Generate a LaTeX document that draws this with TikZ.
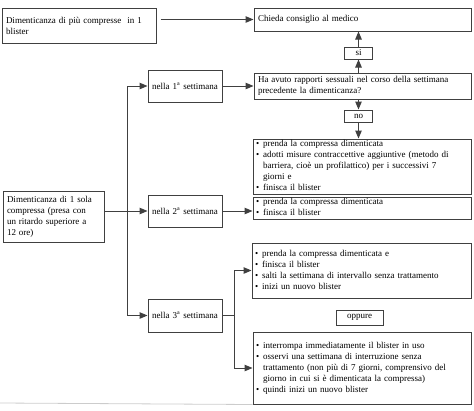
\documentclass[tikz,border=0pt]{standalone}
\usepackage{fontspec}
\setmainfont{Liberation Serif}
\usetikzlibrary{arrows.meta}
\newcommand{\blt}{\textbullet}
\begin{document}
\begin{tikzpicture}[x=1pt,y=-1pt,
  every node/.style={font=\fontsize{9}{11}\selectfont},
  box/.style={draw=black!75,line width=1pt,rectangle,inner ysep=0pt,inner xsep=4pt,align=left,anchor=center},
  tag/.style={draw=black!75,line width=1pt,rectangle,inner sep=0pt,align=center,anchor=center},
  conn/.style={draw=black!75,line width=1pt},
  arr/.style={conn,-{Triangle[length=8pt,width=6.5pt]}}]
\useasboundingbox (0,0) rectangle (474,410);
\newcommand{\bl}[1]{\begin{tabular}{@{}l@{\hspace{4pt}}l@{}}#1\end{tabular}}
% boxes
\node[box,minimum width=154pt,minimum height=35pt,text width=146pt] (b1) at (79,25.5)
  {Dimenticanza di più compresse \ in 1\\blister};
\node[box,minimum width=217pt,minimum height=23pt,text width=209pt] (chieda) at (362.5,19.5)
  {Chieda consiglio al medico};
\node[tag,minimum width=28pt,minimum height=12pt] (si) at (358.5,53) {si};
\node[box,minimum width=217pt,minimum height=26pt,text width=209pt] (ha) at (362.5,86)
  {Ha avuto rapporti sessuali nel corso della settimana\\precedente la dimenticanza?};
\node[tag,minimum width=28pt,minimum height=12pt] (no) at (358.5,116) {no};
\node[box,minimum width=218pt,minimum height=53pt,text width=212pt,inner xsep=3pt] (r1) at (362,166.5)
  {\bl{\blt & prenda la compressa dimenticata\\
       \blt & adotti misure contraccettive aggiuntive (metodo di\\
            & barriera, cioè un profilattico) per i successivi 7\\
            & giorni e\\
       \blt & finisca il blister}};
\node[box,minimum width=218pt,minimum height=22pt,text width=212pt,inner xsep=3pt] (r2) at (362,208)
  {\bl{\blt & prenda la compressa dimenticata\\
       \blt & finisca il blister}};
\node[box,minimum width=74pt,minimum height=32pt,text width=72pt,inner xsep=1pt,align=center] (w1) at (185,86)
  {nella 1\textsuperscript{a} settimana};
\node[box,minimum width=74pt,minimum height=32pt,text width=72pt,inner xsep=1pt,align=center] (w2) at (185,211)
  {nella 2\textsuperscript{a} settimana};
\node[box,minimum width=74pt,minimum height=33pt,text width=72pt,inner xsep=1pt,align=center] (w3) at (185,315.5)
  {nella 3\textsuperscript{a} settimana};
\node[box,minimum width=101pt,minimum height=51pt,text width=93pt] (d1) at (53.5,216.5)
  {Dimenticanza di 1 sola\\compressa (presa con\\un ritardo superiore a\\12 ore)};
\node[box,minimum width=219pt,minimum height=55pt,text width=213pt,inner xsep=3pt] (A) at (361.5,270.5)
  {\bl{\blt & prenda la compressa dimenticata e\\
       \blt & finisca il blister\\
       \blt & salti la settimana di intervallo senza trattamento\\
       \blt & inizi un nuovo blister}};
\node[tag,minimum width=47pt,minimum height=15pt] (opp) at (359.5,317.5) {oppure};
\node[box,minimum width=218pt,minimum height=72pt,text width=212pt,inner xsep=3pt] (B) at (362,368)
  {\bl{\blt & interrompa immediatamente il blister in uso\\
       \blt & osservi una settimana di interruzione senza\\
            & trattamento (non più di 7 giorni, comprensivo del\\
            & giorno in cui si è dimenticata la compressa)\\
       \blt & quindi inizi un nuovo blister}};
% connectors
\draw[arr] ([xshift=4pt]b1.east |- chieda.west) -- (chieda.west);
\draw[arr] (ha.north -| si.south) -- (si.south);
\draw[arr] (si.north) -- (si.north |- chieda.south);
\draw[arr] (ha.south -| no.north) -- (no.north);
\draw[arr] (no.south) -- (no.south |- r1.north);
\draw[arr] (w1.east) -- (w1.east -| ha.west);
\coordinate (tx) at (127,0);
\draw[arr] (tx |- w1.west) -- (w1.west);
\draw[arr] (tx |- w1.west) -- (tx |- w3.west) -- (w3.west);
\draw[arr] (d1.east |- w2.west) -- (w2.west);
\draw[arr] (w2.east) -- (w2.east -| r2.west);
\coordinate (bx) at (234,0);
\draw[conn] (w3.east) -- (w3.east -| bx);
\draw[arr] (bx |- w3.east) -- (bx |- A.west) -- (A.west);
\draw[arr] (bx |- w3.east) -- (bx |- B.west) -- (B.west);
\draw[black!20,line width=0.8pt] (0,403) -- (B.south west);
\end{tikzpicture}
\end{document}
